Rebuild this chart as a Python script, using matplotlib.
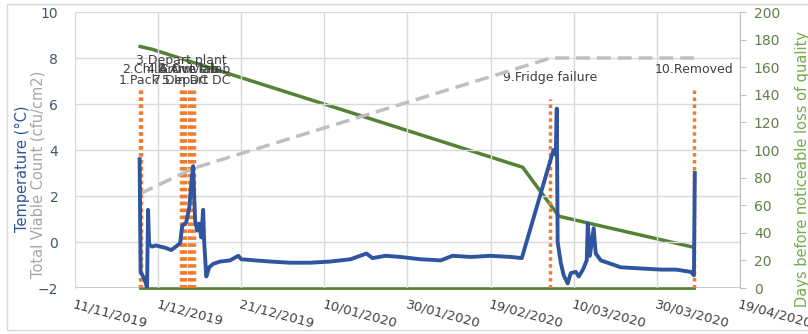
import numpy as np
import pandas as pd
import matplotlib
matplotlib.use('Agg')
import matplotlib.pyplot as plt
from matplotlib.patches import Rectangle

# temperature logger (deg C)
temp_time = ['2019-11-26 13:00', '2019-11-26 19:00', '2019-11-27 09:00', '2019-11-27 21:00',
             '2019-11-28 08:00', '2019-11-28 14:00', '2019-11-28 20:00', '2019-11-29 13:00',
             '2019-11-30 12:00', '2019-12-01 12:00', '2019-12-02 17:00', '2019-12-04 03:00',
             '2019-12-05 07:00', '2019-12-06 07:00', '2019-12-06 19:00', '2019-12-07 18:00',
             '2019-12-08 12:00', '2019-12-08 23:00', '2019-12-09 10:00', '2019-12-09 16:00',
             '2019-12-09 22:00', '2019-12-10 10:00', '2019-12-10 21:00', '2019-12-11 09:00',
             '2019-12-11 20:00', '2019-12-12 02:00', '2019-12-12 14:00', '2019-12-13 07:00',
             '2019-12-14 06:00', '2019-12-15 22:00', '2019-12-18 07:00', '2019-12-20 07:00',
             '2019-12-21 00:00', '2019-12-24 10:00', '2019-12-28 00:00', '2020-01-01 19:00',
             '2020-01-06 14:00', '2020-01-11 10:00', '2020-01-16 07:00', '2020-01-20 03:00',
             '2020-01-21 14:00', '2020-01-24 17:00', '2020-01-28 07:00', '2020-02-02 03:00',
             '2020-02-07 00:00', '2020-02-09 20:00', '2020-02-14 05:00', '2020-02-19 00:00',
             '2020-02-23 20:00', '2020-02-26 12:00', '2020-03-04 11:00', '2020-03-05 04:00',
             '2020-03-05 16:00', '2020-03-05 22:00', '2020-03-06 03:00', '2020-03-06 21:00',
             '2020-03-07 14:00', '2020-03-08 13:00', '2020-03-09 07:00', '2020-03-10 12:00',
             '2020-03-11 05:00', '2020-03-12 05:00', '2020-03-13 03:00', '2020-03-13 09:00',
             '2020-03-13 21:00', '2020-03-14 19:00', '2020-03-15 07:00', '2020-03-16 12:00',
             '2020-03-18 22:00', '2020-03-21 07:00', '2020-03-26 03:00', '2020-03-31 00:00',
             '2020-04-03 14:00', '2020-04-07 05:00', '2020-04-07 22:00', '2020-04-08 03:00']
temp_val = [3.6, -1.3, -1.5, -1.7,
            -2.0, 1.4, -0.1, -0.2,
            -0.15, -0.2, -0.25, -0.35,
            -0.2, -0.05, 0.7, 0.85,
            1.5, 2.5, 3.3, 2.0,
            0.9, 0.5, 0.8, 0.2,
            1.4, 0.0, -1.5, -1.1,
            -0.95, -0.85, -0.8, -0.6,
            -0.75, -0.8, -0.85, -0.9,
            -0.9, -0.85, -0.75, -0.5,
            -0.7, -0.6, -0.65, -0.75,
            -0.8, -0.6, -0.65, -0.6,
            -0.65, -0.7, 3.6, 4.0,
            3.8, 5.8, 0.0, -0.9,
            -1.45, -1.8, -1.35, -1.3,
            -1.5, -1.2, -0.8, 0.8,
            -0.6, 0.6, -0.5, -0.8,
            -0.95, -1.1, -1.15, -1.2,
            -1.2, -1.3, -1.45, 3.0]

# total viable count (left axis)
tvc_time = ['2019-11-26 16:00', '2019-12-09 10:00', '2020-03-04 12:00', '2020-04-07 22:00']
tvc_val = [2.1, 3.2, 8.0, 8.0]

# days before noticeable loss of quality (right axis)
qual_time = ['2019-11-26 16:00', '2019-11-29 13:00', '2020-02-26 17:00', '2020-03-06 10:00',
             '2020-03-13 14:00', '2020-04-07 22:00']
qual_val = [175, 173, 87.5, 52, 47, 29.5]

# events
ev_time = ['2019-11-26 13:00', '2019-11-26 23:00', '2019-12-06 13:00', '2019-12-07 00:00',
           '2019-12-07 12:00', '2019-12-08 12:00', '2019-12-08 23:00', '2019-12-09 16:00',
           '2020-03-04 05:00', '2020-04-07 22:00']
ev_label = ['1.Pack', '2.Chill', '3.Depart plant', '4.Arrive lab', '5.In DC', '6.Out lab',
            '7.Depart DC', '8.Arrive lab', '9.Fridge failure', '10.Removed']
ev_top = [6.7, 6.7, 6.7, 6.7, 6.7, 6.7, 6.7, 6.7, 6.2, 6.6]
ev_text_y = [7.04, 7.48, 7.91, 7.48, 7.04, 7.48, 7.04, 7.48, 7.17, 7.48]

x_ticks = ['2019-11-11', '2019-12-01', '2019-12-21', '2020-01-10', '2020-01-30',
           '2020-02-19', '2020-03-10', '2020-03-30', '2020-04-19']
x_ticklabels = ['11/11/2019', '1/12/2019', '21/12/2019', '10/01/2020', '30/01/2020',
                '19/02/2020', '10/03/2020', '30/03/2020', '19/04/2020']

temp_time = pd.to_datetime(temp_time)
tvc_time = pd.to_datetime(tvc_time)
qual_time = pd.to_datetime(qual_time)
ev_time = pd.to_datetime(ev_time)
x_ticks = pd.to_datetime(x_ticks)

blue = '#2F55A0'
green = '#548235'
orange = '#ED7D31'
grey = '#BFBFBF'
txt = '#404040'

fig = plt.figure(figsize=(8.08, 3.34), dpi=100)
ax = fig.add_axes([75/808, 1-288/334, 665/808, 276/334])
ax2 = ax.twinx()

# frame around the whole chart
fig.patches.append(Rectangle((7/808, 4/334), 1.0, 1 - 8/334, transform=fig.transFigure,
                             fill=False, edgecolor='#D9D9D9', lw=1))

ax.set_xlim(x_ticks[0], x_ticks[-1])
ax.set_ylim(-2, 10)
ax.set_yticks(np.arange(-2, 11, 2))
ax.set_xticks(x_ticks)
ax.set_xticklabels(x_ticklabels, rotation=-15, ha='left', va='top',
                   rotation_mode='anchor', fontsize=9.5, color=txt)
ax.grid(True, color='#D9D9D9', lw=1)
ax.set_axisbelow(True)
ax.tick_params(axis='x', length=0, pad=7)
ax.tick_params(axis='y', length=0, labelsize=10, labelcolor='#44546A', pad=12)
for s in ['top', 'right', 'bottom']:
    ax.spines[s].set_visible(False)
ax.spines['left'].set_color('#D9D9D9')

# event markers
ax.vlines(ev_time, -2, ev_top, colors=orange, linestyles=(0, (1, 1)), lw=2.5, zorder=2)
for t, lab, yy in zip(ev_time, ev_label, ev_text_y):
    ax.text(t, yy, lab, ha='center', va='center', fontsize=9, color=txt, zorder=3)

ax.plot(tvc_time, tvc_val, color=grey, lw=2.5, ls=(0, (4, 2)), zorder=3)
ax.plot(temp_time, temp_val, color=blue, lw=2.8, zorder=4)

ax2.set_ylim(0, 200)
ax2.set_yticks(np.arange(0, 201, 20))
ax2.plot(qual_time, qual_val, color=green, lw=2.5, zorder=5)
ax2.axhline(0, color='#BFBFBF', lw=1.2, zorder=1)
ax2.plot([ev_time[0], ev_time[-1]], [0, 0], color=green, lw=2, zorder=5, clip_on=False)
ax2.tick_params(axis='y', colors='#BFBFBF', labelcolor='#5E7F45', labelsize=10, length=4, pad=6)
for s in ['top', 'left', 'bottom']:
    ax2.spines[s].set_visible(False)
ax2.spines['right'].set_color('#BFBFBF')
ax.set_zorder(ax2.get_zorder() + 1)
ax.patch.set_visible(False)

fig.text(22/808, 165/334, 'Temperature (°C)', rotation=90, ha='center', va='center',
         fontsize=10.5, color='#2F5597')
fig.text(38/808, 160/334, 'Total Viable Count (cfu/cm2)', rotation=90, ha='center', va='center',
         fontsize=10.5, color='#A6A6A6')
fig.text(803/808, 165/334, 'Days before noticeable loss of quality', rotation=90, ha='center',
         va='center', fontsize=10.5, color='#70AD47')

fig.savefig('out.png', dpi=100)
